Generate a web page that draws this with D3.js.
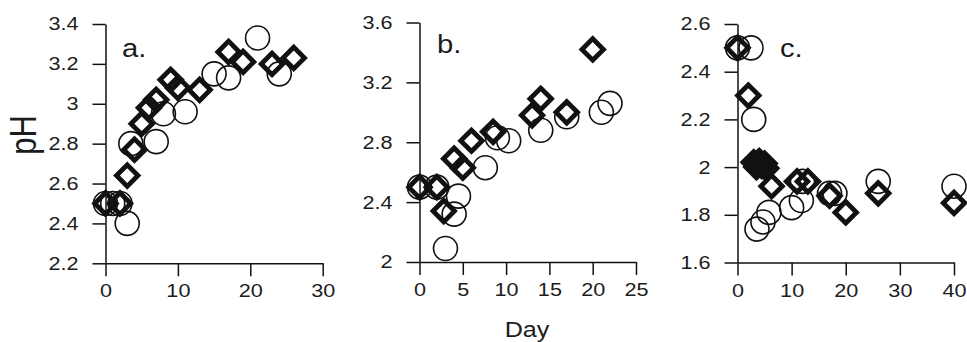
<!DOCTYPE html>
<html><head><meta charset="utf-8">
<script src="https://cdn.jsdelivr.net/npm/d3@7"></script>
<style>body{margin:0;background:#fff}svg{display:block}</style>
</head><body><svg id="chart" width="967" height="342"></svg>
<script>
// ---- data (day, pH) ----
const aCircles  = [[0,2.5],[1,2.5],[2,2.5],[3,2.4],[3.5,2.8],[7,2.81],[8,2.95],[11,2.96],[15,3.15],[17,3.13],[21,3.33],[24,3.15]];
const aDiamonds = [[0,2.5],[2,2.5],[3,2.64],[4,2.77],[5,2.9],[6,2.98],[7,3.02],[9,3.12],[10,3.08],[13,3.07],[17,3.26],[19,3.21],[23,3.2],[26,3.23]];
const bCircles  = [[0,2.5],[2,2.5],[3,2.09],[4,2.32],[4.5,2.44],[7.6,2.63],[9,2.83],[10.3,2.81],[14,2.88],[17,2.97],[21,3.0],[22,3.06]];
const bDiamonds = [[0,2.5],[2,2.5],[2.8,2.34],[4,2.69],[5,2.63],[6,2.81],[8.5,2.87],[13,2.98],[14,3.09],[17,3.0],[20,3.42]];
const cCircles  = [[0,2.5],[2.5,2.5],[3,2.2],[3.6,1.74],[4.7,1.77],[5.8,1.81],[10,1.83],[11.8,1.86],[12,1.94],[17,1.89],[18,1.89],[26,1.94],[40,1.92]];
const cDiamonds = [[0,2.5],[2,2.3],[3,2.02],[3.5,2.0],[4,2.025],[4.5,2.005],[5,2.015],[5.3,1.995],[6.3,1.92],[11,1.94],[13,1.94],[17,1.88],[20,1.81],[26,1.89],[40,1.85]];
const aXTicks = [0,10,20,30];
const bXTicks = [0,5,10,15,20,25];
const cXTicks = [0,10,20,30,40];
const aYTicks = [2.2,2.4,2.6,2.8,3.0,3.2,3.4];
const bYTicks = [2.0,2.4,2.8,3.2,3.6];
const cYTicks = [1.6,1.8,2.0,2.2,2.4,2.6];
const panelLabels = ["a.","b.","c."];
const yTitle = "pH";
const xTitle = "Day";

const svg = d3.select("#chart");
const TXT = "#1c1c1c", INK = "#111";
const FONT = "'Liberation Sans', Arial, sans-serif";
const SX = 1.17; // horizontal stretch of the lettering

const panels = [
  {circles:aCircles, diamonds:aDiamonds, xt:aXTicks, yt:aYTicks, x0:105.5, x1:322.7, y0:263.3, y1:24, lab:panelLabels[0], lx:122, ly:57},
  {circles:bCircles, diamonds:bDiamonds, xt:bXTicks, yt:bYTicks, x0:419.5, x1:636, y0:262, y1:22.5, lab:panelLabels[1], lx:437, ly:53},
  {circles:cCircles, diamonds:cDiamonds, xt:cXTicks, yt:cYTicks, x0:737.5, x1:954, y0:262.5, y1:24, lab:panelLabels[2], lx:780, ly:57}
];
const TS = 13, PADY = 14, PADX = 8;
const fmt = d => String(+d.toFixed(1));
const diamond = d3.symbol().type(d3.symbolSquare).size(230)();

panels.forEach(p => {
  const x = d3.scaleLinear().domain([p.xt[0], p.xt[p.xt.length-1]]).range([p.x0, p.x1]);
  const y = d3.scaleLinear().domain([p.yt[0], p.yt[p.yt.length-1]]).range([p.y0, p.y1]);
  const gx = svg.append("g").attr("transform", `translate(0,${p.y0})`)
    .call(d3.axisBottom(x).tickValues(p.xt).tickSize(TS).tickSizeOuter(0).tickPadding(PADX).tickFormat(fmt));
  const gy = svg.append("g").attr("transform", `translate(${p.x0},0)`)
    .call(d3.axisLeft(y).tickValues(p.yt).tickSize(TS).tickSizeOuter(0).tickPadding(PADY).tickFormat(fmt));
  [gx, gy].forEach(g => {
    g.selectAll("path,line").attr("stroke", INK).attr("stroke-width", 1.5);
    g.selectAll("text").attr("fill", TXT).style("font-family", FONT).style("font-size", "18.5px")
      .attr("transform", `scale(${SX},1)`);
  });
  gy.selectAll("text").attr("x", -(TS + PADY) / SX);

  const marks = svg.append("g");
  marks.selectAll("circle").data(p.circles).join("circle")
    .attr("cx", d => x(d[0])).attr("cy", d => y(d[1])).attr("r", 12)
    .attr("fill", "none").attr("stroke", INK).attr("stroke-width", 1.6);
  marks.selectAll("path.dm").data(p.diamonds).join("path").attr("class", "dm")
    .attr("d", diamond)
    .attr("transform", d => `translate(${x(d[0])},${y(d[1])}) rotate(45)`)
    .attr("fill", "none").attr("stroke", INK).attr("stroke-width", 4.8).attr("stroke-linejoin", "miter");

  svg.append("text").attr("transform", `translate(${p.lx},${p.ly}) scale(${SX},1)`)
    .attr("fill", TXT).style("font-family", FONT).style("font-size", "25px").text(p.lab);
});

svg.append("text").attr("transform", `translate(527,337) scale(${SX},1)`).attr("text-anchor", "middle")
  .attr("fill", TXT).style("font-family", FONT).style("font-size", "21.5px").text(xTitle);
svg.append("text").attr("transform", `translate(36,135) rotate(-90) scale(1,${SX})`).attr("text-anchor", "middle")
  .attr("fill", TXT).style("font-family", FONT).style("font-size", "31px").text(yTitle);
</script></body></html>
